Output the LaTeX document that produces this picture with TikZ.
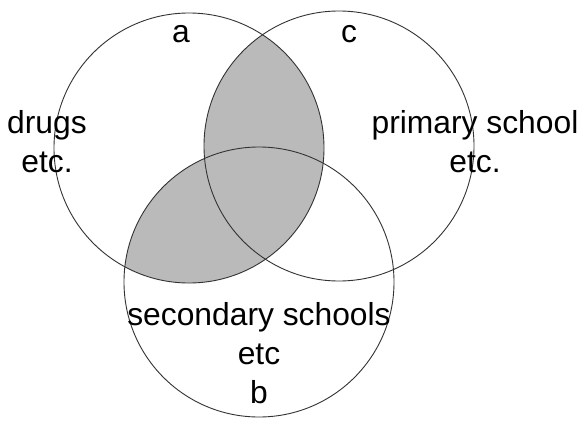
\documentclass[tikz,border=0pt]{standalone}
\usepackage{fontspec}
\setmainfont{Liberation Sans}
\begin{document}
\begin{tikzpicture}[x=1pt,y=-1pt,
  setline/.style={draw=black!80,line width=0.9pt},
  lbl/.style={inner sep=0pt,anchor=base,align=center,font=\fontsize{31.8}{39}\selectfont}]
\useasboundingbox (0,0) rectangle (585,420);
\fill[white] (0,0) rectangle (585,420);
\coordinate (ca) at (189,148);
\coordinate (cc) at (339,146);
\coordinate (cb) at (259,282);
\begin{scope}
  \clip (ca) circle (135pt);
  \fill[black!27] (cb) circle (135pt);
  \fill[black!27] (cc) circle (135pt);
\end{scope}
\draw[setline] (ca) circle (135pt);
\draw[setline] (cc) circle (135pt);
\draw[setline] (cb) circle (135pt);
\node[lbl] (la) at (181,42) {a};
\node[lbl] (lc) at (349,42) {c};
\node[lbl] (ldrugs) at (47,172) {drugs\\etc.};
\node[lbl] (lprim) at (475,172) {primary school\\etc.};
\node[lbl] (lsec) at (259,403) {secondary schools\\etc\\b};
\end{tikzpicture}
\end{document}
